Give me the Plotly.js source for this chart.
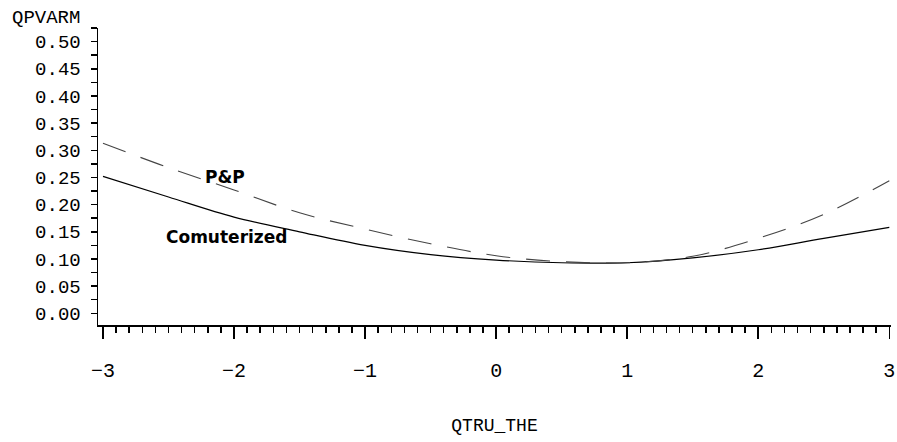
<!DOCTYPE html>
<html>
<head>
<meta charset="utf-8">
<script src="https://cdn.plot.ly/plotly-3.0.1.min.js"></script>
<style>html,body{margin:0;padding:0;background:#fff;}#chart{width:897px;height:442px;}</style>
</head>
<body>
<div id="chart"></div>
<script>
// Data
const theta = [-3, -2.5, -2, -1.5, -1, -0.5, 0, 0.5, 1, 1.5, 2, 2.5, 3];
const computerized = [0.252, 0.214, 0.177, 0.150, 0.125, 0.108, 0.098, 0.093, 0.093, 0.102, 0.117, 0.138, 0.158];
const pAndP = [0.313, 0.268, 0.227, 0.185, 0.155, 0.128, 0.106, 0.095, 0.093, 0.105, 0.138, 0.182, 0.244];
const seriesLabels = ["Comuterized", "P&P"];
const xTitle = "QTRU_THE";
const yTitle = "QPVARM";

const traces = [
  {x: theta, y: computerized, name: seriesLabels[0], mode: "lines",
   line: {color: "#000", width: 1.2, shape: "spline"}},
  {x: theta, y: pAndP, name: seriesLabels[1], mode: "lines",
   line: {color: "#444", width: 1.1, dash: "24px,16px", shape: "spline"}}
];

const monoFont = "'Liberation Mono', 'DejaVu Sans Mono', monospace";

const layout = {
  width: 897, height: 442,
  margin: {l: 98, r: 6, t: 28, b: 117},
  paper_bgcolor: "#fff", plot_bgcolor: "#fff",
  showlegend: false,
  xaxis: {
    range: [-3.038, 3.013],
    showgrid: false, zeroline: false,
    showline: true, linecolor: "#000", linewidth: 1.5,
    ticks: "outside", ticklen: 12, tickwidth: 1.5, tickcolor: "#000",
    tickmode: "array", tickvals: [-3, -2, -1, 0, 1, 2, 3],
    ticktext: ["\u22123", "\u22122", "\u22121", "0", "1", "2", "3"],
    minor: {dtick: 0.1, ticklen: 6, tickwidth: 1.5, tickcolor: "#000", ticks: "outside", showgrid: false},
    tickfont: {family: monoFont, size: 20, color: "#000"},
    ticklabelstandoff: 14,
    title: {text: xTitle, font: {family: monoFont, size: 18, color: "#000"}, standoff: 37}
  },
  yaxis: {
    range: [-0.0215, 0.525],
    showgrid: false, zeroline: false,
    showline: true, linecolor: "#000", linewidth: 1.5,
    ticks: "outside", ticklen: 6, tickwidth: 1.5, tickcolor: "#000",
    tick0: 0, dtick: 0.05, tickformat: ".2f",
    minor: {dtick: 0.025, ticklen: 6, tickwidth: 1.5, tickcolor: "#000", ticks: "outside", showgrid: false},
    tickfont: {family: monoFont, size: 19, color: "#000"},
    ticklabelstandoff: 6
  },
  annotations: [
    {xref: "paper", yref: "paper", x: -0.111, y: 1.0, xanchor: "left", yanchor: "bottom", yshift: -3,
     text: yTitle, showarrow: false, font: {family: monoFont, size: 19, color: "#000"}},
    {x: -2.067, y: 0.2515, text: "<b>" + seriesLabels[1] + "</b>", showarrow: false,
     font: {family: "'DejaVu Sans', sans-serif", size: 17, color: "#000"}},
    {x: -2.056, y: 0.140, text: "<b>" + seriesLabels[0] + "</b>", showarrow: false,
     font: {family: "'DejaVu Sans', sans-serif", size: 17, color: "#000"}}
  ]
};

Plotly.newPlot("chart", traces, layout, {displayModeBar: false, staticPlot: true});
</script>
</body>
</html>
